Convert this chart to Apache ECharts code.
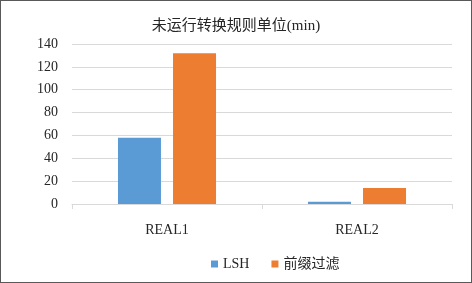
<!DOCTYPE html>
<html>
<head>
<meta charset="utf-8">
<script src="https://cdn.jsdelivr.net/npm/echarts@6/dist/echarts.min.js"></script>
<style>
html, body { margin: 0; padding: 0; background: #fff; }
#main { width: 472px; height: 283px; box-sizing: border-box; border: 1px solid #595959; }
</style>
</head>
<body>
<div id="main"></div>
<script>
var categories = ['REAL1', 'REAL2'];
var lshValues = [58, 2];
var prefixValues = [132, 14];
var seriesNames = ['LSH', '前缀过滤'];

var font = '"Liberation Serif", "Noto Sans CJK SC", serif';
var textColor = '#262626';
var myChart = echarts.init(document.getElementById('main'));

var option = {
  backgroundColor: '#fff',
  title: {
    text: '未运行转换规则单位(min)',
    left: 'center',
    top: 13,
    textStyle: { fontFamily: font, fontSize: 15, fontWeight: 'normal', color: textColor }
  },
  legend: {
    top: 251,
    left: 205,
    itemWidth: 7,
    itemHeight: 7,
    itemGap: 22,
    icon: 'rect',
    textStyle: { fontFamily: font, fontSize: 14, color: textColor },
    data: seriesNames
  },
  grid: { left: 71, right: 19, top: 43, bottom: 78 },
  xAxis: {
    type: 'category',
    data: categories,
    axisLine: { lineStyle: { color: '#D9D9D9' } },
    axisTick: { show: true, lineStyle: { color: '#D9D9D9' } },
    axisLabel: { fontFamily: font, fontSize: 14, color: textColor, margin: 19 }
  },
  yAxis: {
    type: 'value',
    min: 0,
    max: 140,
    interval: 20,
    axisLine: { show: false },
    axisTick: { show: false },
    splitLine: { lineStyle: { color: '#D9D9D9' } },
    axisLabel: { fontFamily: font, fontSize: 14, color: textColor, margin: 14 }
  },
  series: [
    { name: seriesNames[0], type: 'bar', data: lshValues, barWidth: 43, barGap: '28%', itemStyle: { color: '#5B9BD5' } },
    { name: seriesNames[1], type: 'bar', data: prefixValues, barWidth: 43, itemStyle: { color: '#ED7D31' } }
  ]
};

myChart.setOption(option);
</script>
</body>
</html>
